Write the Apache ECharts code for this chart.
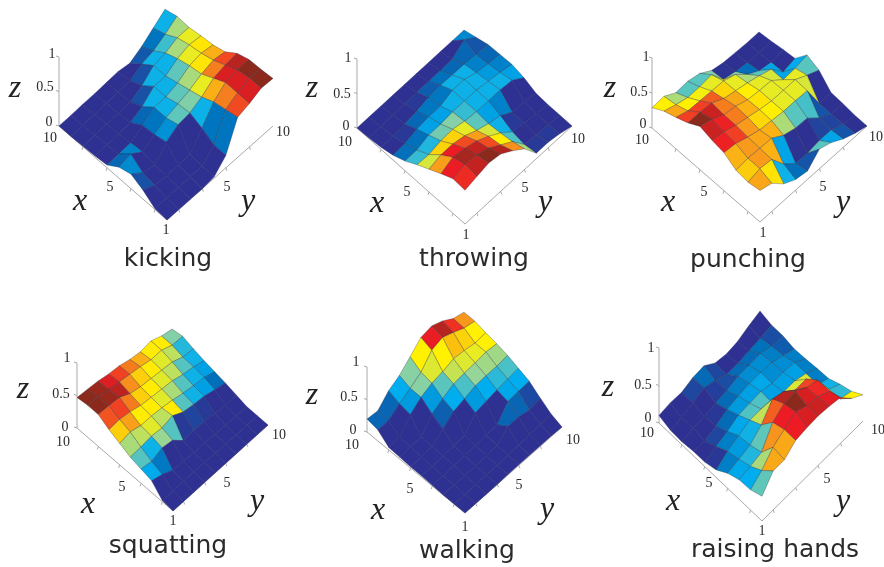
<!DOCTYPE html>
<html>
<head>
<meta charset="utf-8">
<style>
  html, body { margin: 0; padding: 0; background: #fff; }
  #main { width: 884px; height: 567px; }
</style>
<script src="https://cdn.jsdelivr.net/npm/echarts@6/dist/echarts.min.js"></script>
</head>
<body>
<div id="main"></div>
<script>
// z values, one row per x = 1..10, columns are y = 1..10
var kicking = [
  [0, 0, 0, 0, .02, .18, .58, .63, .70, .69],
  [.01, .02, .02, .02, .03, .18, .54, .63, .70, .67],
  [.13, .05, .04, .04, .05, .27, .50, .63, .66, .66],
  [.21, .08, .04, .22, .32, .34, .42, .54, .58, .60],
  [.16, .20, .08, .18, .27, .32, .37, .45, .50, .47],
  [.04, .05, .06, .16, .27, .27, .32, .42, .45, .42],
  [.02, .03, .04, .05, .13, .27, .27, .37, .42, .40],
  [.01, .02, .03, .03, .05, .13, .27, .30, .37, .37],
  [0, .01, .02, .03, .04, .05, .14, .18, .27, .38],
  [0, 0, .01, .01, .02, .03, 0, .09, .21, .33]
];
var throwing = [
  [.49, .53, .57, .54, .43, .30, .08, .08, .05, 0],
  [.50, .55, .53, .47, .36, .25, .05, .03, .03, 0],
  [.42, .50, .47, .42, .33, .22, .08, .05, .03, 0],
  [.33, .38, .38, .34, .26, .20, .16, .05, .05, .01],
  [.24, .23, .27, .28, .24, .22, .22, .22, .20, .08],
  [.14, .14, .20, .20, .22, .22, .22, .19, .16, .12],
  [.07, .08, .13, .15, .15, .22, .22, .16, .13, .11],
  [.03, .03, .05, .08, .12, .14, .13, .13, .11, .10],
  [.01, .02, .03, .03, .04, .04, .04, .05, .17, .05],
  [0, 0, 0, 0, 0, 0, 0, 0, 0, 0]
];
var punching = [
  [.45, .40, .24, .15, .12, .28, .22, .12, .05, 0],
  [.42, .46, .44, .22, .08, .07, .10, .10, .03, 0],
  [.44, .46, .45, .44, .33, .28, .27, .12, .03, .02],
  [.54, .52, .46, .41, .39, .37, .37, .36, .03, .03],
  [.57, .54, .48, .44, .40, .37, .37, .37, .28, .20],
  [.62, .57, .48, .45, .39, .37, .36, .22, .23, .27],
  [.52, .52, .50, .41, .37, .33, .28, .22, .03, .07],
  [.45, .39, .38, .37, .36, .30, .15, .05, .02, .05],
  [.39, .33, .28, .28, .30, .08, .04, .02, .01, .02],
  [.29, .30, .20, .21, .17, .06, .02, .01, 0, 0]
];
var squatting = [
  [0, 0, 0, 0, 0, 0, 0, 0, 0, 0],
  [.02, .02, .02, .02, .02, .01, .01, 0, 0, 0],
  [.18, .13, .05, .04, .03, .03, .02, .01, 0, 0],
  [.22, .19, .25, .22, .07, .08, .07, .05, .02, .04],
  [.26, .27, .29, .27, .31, .22, .19, .17, .12, .08],
  [.33, .36, .31, .31, .29, .26, .22, .19, .17, .11],
  [.40, .41, .38, .33, .31, .29, .27, .22, .19, .14],
  [.49, .48, .46, .37, .33, .31, .29, .27, .20, .18],
  [.49, .48, .44, .41, .38, .35, .31, .31, .24, .23],
  [.47, .45, .43, .39, .37, .32, .29, .31, .24, .20]
];
var walking = [
  [0, 0, 0, 0, .01, .01, .01, .01, .01, 0],
  [0, 0, .01, .01, .01, .02, .03, .04, .05, .06],
  [0, .01, .01, .01, .02, .03, .17, .17, .13, .17],
  [.01, .01, .02, .03, .04, .05, .06, .27, .28, .29],
  [.02, .02, .03, .04, .06, .25, .28, .31, .33, .35],
  [.02, .03, .04, .16, .28, .33, .38, .39, .39, .41],
  [.03, .04, .05, .25, .34, .42, .44, .45, .47, .45],
  [.04, .06, .25, .37, .44, .47, .52, .50, .47, .48],
  [.17, .17, .28, .37, .47, .66, .71, .64, .56, .52],
  [.20, .18, .34, .43, .57, .72, .75, .68, .57, .52]
];
var raisingHands = [
  [.33, .52, .52, .63, .65, .66, .64, .61, .45, .35],
  [.27, .38, .54, .63, .72, .65, .62, .55, .30, .25],
  [.26, .29, .33, .58, .68, .70, .60, .55, .28, .20],
  [.20, .24, .28, .40, .60, .55, .42, .42, .20, .13],
  [.10, .20, .26, .32, .32, .25, .25, .25, .20, .12],
  [.06, .12, .17, .24, .25, .26, .22, .22, .20, .10],
  [.06, .05, .10, .17, .20, .22, .22, .20, .15, .09],
  [.04, .08, .08, .11, .13, .17, .17, .18, .13, .12],
  [.05, .07, .12, .17, .12, .05, .05, .07, .09, .12],
  [.10, .12, .11, .16, .17, .06, .03, .05, .11, .16]
];

var captions = ["kicking", "throwing", "punching", "squatting", "walking", "raising hands"];
var surfaces = [kicking, throwing, punching, squatting, walking, raisingHands];
var zTicks = [0, 0.5, 1];
var floorTicks = [2, 4, 6, 8];

// jet map as it came out of the CMYK conversion in the paper
var jet = ["#2e3192", "#2e3192", "#0072bc", "#00aeef", "#8fd3a0", "#fff200", "#f7941d", "#ed1c24", "#8b2a1c"];

// corners of the floor in page pixels: F = (1,1), L = (10,1), R = (1,10), unit = height of z=1
var panels = [
  { F: [167, 220], L: [59, 126], R: [273, 126], unit: 69,
    z: [15, 89], x: [80, 202], y: [248, 202], cap: [168, 259],
    t1: [52, 54], t05: [45, 87], t0: [49, 122], x10: [50, 138], x5: [110, 187], o: [166, 230], y5: [227, 187], y10: [283, 132] },
  { F: [465, 224], L: [357, 128], R: [572, 126], unit: 69,
    z: [312, 89], x: [377, 204], y: [545, 203], cap: [474, 259],
    t1: [348, 58], t05: [342, 94], t0: [346, 126], x10: [345, 142], x5: [407, 192], o: [466, 235], y5: [525, 188], y10: [578, 139] },
  { F: [760, 222], L: [652, 128], R: [867, 126], unit: 70,
    z: [610, 89], x: [668, 203], y: [843, 203], cap: [748, 260],
    t1: [646, 57], t05: [639, 92], t0: [643, 124], x10: [642, 140], x5: [704, 192], o: [763, 233], y5: [823, 187], y10: [876, 137] },
  { F: [173, 511], L: [77, 428], R: [268, 425], unit: 65,
    z: [23, 390], x: [88, 505], y: [257, 502], cap: [168, 546],
    t1: [67, 358], t05: [61, 394], t0: [65, 427], x10: [63, 442], x5: [122, 487], o: [173, 521], y5: [227, 483], y10: [279, 435] },
  { F: [465, 513], L: [367, 432], R: [562, 427], unit: 65,
    z: [312, 396], x: [378, 511], y: [547, 510], cap: [467, 551],
    t1: [356, 362], t05: [349, 397], t0: [353, 430], x10: [352, 445], x5: [410, 489], o: [465, 527], y5: [519, 485], y10: [573, 440] },
  { F: [762, 521], L: [659, 423], R: [863, 421], unit: 75,
    z: [608, 388], x: [673, 502], y: [843, 502], cap: [775, 550],
    t1: [651, 348], t05: [643, 385], t0: [648, 418], x10: [647, 433], x5: [709, 483], o: [762, 531], y5: [827, 479], y10: [878, 430] }
];

// x, y run 1..10 here, z 0..1
function project(p, x, y, z) {
  var a = (x - 1) / 9, b = (y - 1) / 9;
  return [
    p.F[0] + a * (p.L[0] - p.F[0]) + b * (p.R[0] - p.F[0]),
    p.F[1] + a * (p.L[1] - p.F[1]) + b * (p.R[1] - p.F[1]) - z * p.unit
  ];
}

function surfaceSeries(rows, p) {
  var zMax = Math.max.apply(null, rows.map(function (r) { return Math.max.apply(null, r); }));
  var cells = [];
  // back corner first so the front cells paint over
  for (var i = 8; i >= 0; i--) {
    for (var j = 8; j >= 0; j--) cells.push([i, j, rows[i][j]]);
  }
  cells.sort(function (a, b) { return (b[0] + b[1]) - (a[0] + a[1]); });
  return {
    type: "custom",
    silent: true,
    data: cells,
    encode: { x: 0, y: 1 },
    renderItem: function (params, api) {
      var i = api.value(0), j = api.value(1);
      var corners = [[i, j], [i + 1, j], [i + 1, j + 1], [i, j + 1]].map(function (c) {
        return api.coord(project(p, c[0] + 1, c[1] + 1, rows[c[0]][c[1]]));
      });
      var level = api.value(2) / zMax;
      return {
        type: "polygon",
        shape: { points: corners },
        style: {
          fill: echarts.color.lerp(level, jet),
          // grid hardly shows on the dark floor in the original
          stroke: level < 0.125 ? "rgba(35,40,110,0.7)" : "rgba(35,35,50,0.5)",
          lineWidth: 0.6
        }
      };
    }
  };
}

function frameSeries(p) {
  var segs = [
    [project(p, 10, 1, 0), project(p, 1, 1, 0)],
    [project(p, 1, 1, 0), project(p, 1, 10, 0)],
    [project(p, 10, 1, 0), project(p, 10, 1, 1)]
  ];
  zTicks.forEach(function (t) {
    var a = project(p, 10, 1, t);
    segs.push([[a[0] - 3, a[1] - 1], a]);
  });
  floorTicks.forEach(function (t) {
    var a = project(p, t, 1, 0), b = project(p, 1, t, 0);
    segs.push([a, [a[0] - 1, a[1] + 3]]);
    segs.push([b, [b[0] + 1, b[1] + 3]]);
  });
  return {
    type: "custom",
    silent: true,
    data: segs.map(function (s, k) { return [k]; }),
    renderItem: function (params, api) {
      var s = segs[api.value(0)];
      var a = api.coord(s[0]), b = api.coord(s[1]);
      return {
        type: "line",
        shape: { x1: a[0], y1: a[1], x2: b[0], y2: b[1] },
        style: { stroke: "#a9a9a9", lineWidth: 1 }
      };
    }
  };
}

function label(pos, text, size, family, style, color) {
  return {
    type: "text", x: pos[0], y: pos[1], silent: true,
    style: {
      text: text, fontSize: size, fontFamily: family, fontStyle: style || "normal",
      fill: color || "#2b2b2b", align: "center", verticalAlign: "middle"
    }
  };
}

var serif = "Liberation Serif";
var series = [], texts = [];
panels.forEach(function (p, n) {
  series.push(frameSeries(p));
  series.push(surfaceSeries(surfaces[n], p));
  texts.push(label(p.cap, captions[n], 25, "DejaVu Sans"));
  ["z", "x", "y"].forEach(function (k) { texts.push(label(p[k], k, 32, serif, "italic", "#222")); });
  texts.push(label(p.t1, "1", 14, serif), label(p.t05, "0.5", 14, serif), label(p.t0, "0", 14, serif));
  texts.push(label(p.x10, "10", 14, serif), label(p.x5, "5", 14, serif), label(p.o, "1", 14, serif));
  texts.push(label(p.y5, "5", 14, serif), label(p.y10, "10", 14, serif));
});

var chart = echarts.init(document.getElementById("main"), null, { renderer: "canvas" });
chart.setOption({
  animation: false,
  backgroundColor: "#fff",
  grid: { left: 0, top: 0, right: 0, bottom: 0 },
  xAxis: { type: "value", min: 0, max: 884, show: false },
  yAxis: { type: "value", min: 0, max: 567, inverse: true, show: false },
  graphic: texts,
  series: series
});
</script>
</body>
</html>
